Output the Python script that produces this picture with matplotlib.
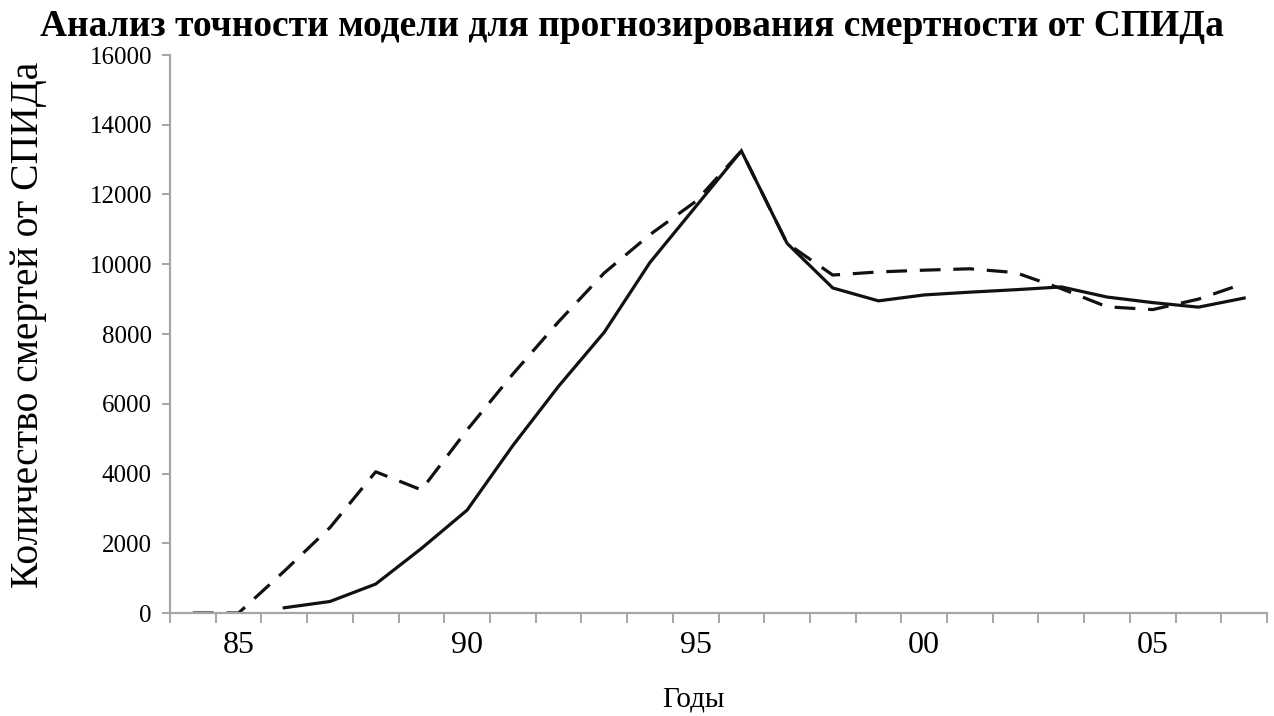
import numpy as np
import matplotlib
matplotlib.use("Agg")
import matplotlib.pyplot as plt
from matplotlib.ticker import FixedLocator, NullFormatter

years = list(range(1984, 2008))
actual = [np.nan, np.nan, 150, 330, 830, 1850, 2950, 4800, 6500, 8050, 10050, 11650,
          13250, 10600, 9320, 8950, 9120, 9200, 9270, 9350, 9060, 8900, 8770, 9030]
forecast = [0, 0, 1200, 2450, 4050, 3530, 5250, 6850, 8350, 9750, 10850, 11800,
            13250, 10600, 9690, 9780, 9830, 9870, 9760, 9300, 8780, 8700, 9000, 9450]
label_years = [1985, 1990, 1995, 2000, 2005]
yticks = [0, 2000, 4000, 6000, 8000, 10000, 12000, 14000, 16000]

title = "Анализ точности модели для прогнозирования смертности от СПИДа"
ylabel = "Количество смертей от СПИДа"
xlabel = "Годы"

plt.rcParams['font.family'] = ['Liberation Serif', 'DejaVu Serif']

fig = plt.figure(figsize=(12.74, 7.16), dpi=100)
ax = fig.add_axes([170/1274, 1-613/716, (1267-170)/1274, (613-55)/716])

x = np.arange(len(years))
ax.plot(x, actual, color='#111111', lw=2.3, solid_joinstyle='miter')
ax.plot(x, forecast, color='#111111', lw=2.3, dashes=(6.5, 4))

ax.set_xlim(-0.5, len(years) - 0.5)
ax.set_ylim(0, 16000)

spine_col = '#a6a6a6'
for s in ['top', 'right']:
    ax.spines[s].set_visible(False)
for s in ['left', 'bottom']:
    ax.spines[s].set_color(spine_col)
    ax.spines[s].set_linewidth(1.6)

ax.set_yticks(yticks)
ax.set_yticklabels([str(v) for v in yticks], fontsize=18)
ax.tick_params(axis='y', direction='out', length=6, width=1.4, color=spine_col, pad=7)

major_pos = [years.index(y) for y in label_years]
ax.set_xticks(major_pos)
ax.set_xticklabels([f"{y % 100:02d}" for y in label_years], fontsize=23)
ax.tick_params(axis='x', which='major', length=0, pad=13)
ax.xaxis.set_minor_locator(FixedLocator(np.arange(-0.5, len(years), 1.0)))
ax.xaxis.set_minor_formatter(NullFormatter())
ax.tick_params(axis='x', which='minor', direction='out', length=7, width=1.4, color=spine_col)

fig.text(632/1274, 1 - 27/716, title, ha='center', va='center', fontsize=27, fontweight='bold')
fig.text(29/1274, 1 - 325/716, ylabel, rotation=90, ha='center', va='center', fontsize=28.5)
fig.text(693/1274, 1 - 700/716, xlabel, ha='center', va='center', fontsize=21)

fig.savefig("out.png", dpi=100)
